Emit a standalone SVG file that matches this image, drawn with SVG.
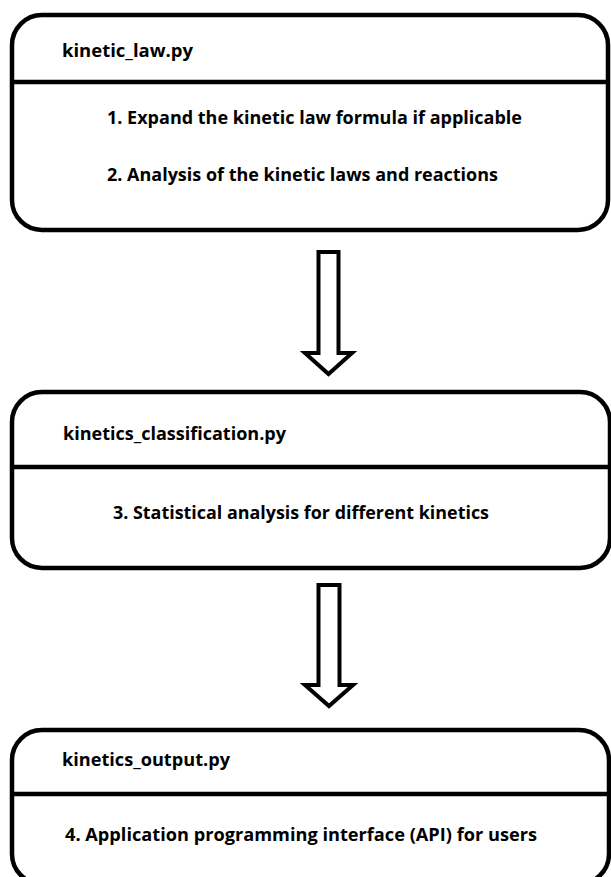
<svg xmlns="http://www.w3.org/2000/svg" width="611" height="877" viewBox="0 0 611 877">
<style>
.box{fill:#fff;stroke:#000;stroke-width:4.5}
.div{stroke:#000;stroke-width:4.5}
.arr{fill:#fff;stroke:#000;stroke-width:4;stroke-linejoin:miter}
text{font-family:"Open Sans","Noto Sans","Liberation Sans",sans-serif;font-weight:700;font-size:17px;fill:#000}
</style>
<rect width="611" height="877" fill="#fff"/>
<g id="node-kinetic-law">
<rect class="box" x="12" y="15" width="596" height="215" rx="30" ry="30"/>
<line class="div" x1="12" y1="82" x2="608" y2="82"/>
<text x="62" y="57" textLength="131" lengthAdjust="spacingAndGlyphs">kinetic_law.py</text>
<text x="107" y="124" textLength="415" lengthAdjust="spacingAndGlyphs">1. Expand the kinetic law formula if applicable</text>
<text x="107" y="181" textLength="391" lengthAdjust="spacingAndGlyphs">2. Analysis of the kinetic laws and reactions</text>
</g>
<g id="node-kinetics-classification">
<rect class="box" x="12" y="392" width="598" height="176" rx="30" ry="30"/>
<line class="div" x1="12" y1="467" x2="610" y2="467"/>
<text x="63" y="440" textLength="223" lengthAdjust="spacingAndGlyphs">kinetics_classification.py</text>
<text x="113" y="519" textLength="376" lengthAdjust="spacingAndGlyphs">3. Statistical analysis for different kinetics</text>
</g>
<g id="node-kinetics-output">
<rect class="box" x="12" y="730" width="597" height="154" rx="30" ry="30"/>
<line class="div" x1="12" y1="794" x2="609" y2="794"/>
<text x="62" y="766" textLength="168" lengthAdjust="spacingAndGlyphs">kinetics_output.py</text>
<text x="65" y="841" textLength="472" lengthAdjust="spacingAndGlyphs">4. Application programming interface (API) for users</text>
</g>
<g id="connectors">
<path class="arr" d="M318.5,252 L338.5,252 L338.5,353 L352,353 L328.5,374 L305,353 L318.5,353 Z"/>
<path class="arr" d="M318.5,585 L339.5,585 L339.5,685 L353,685 L329,706 L305,685 L318.5,685 Z"/>
</g>
</svg>
